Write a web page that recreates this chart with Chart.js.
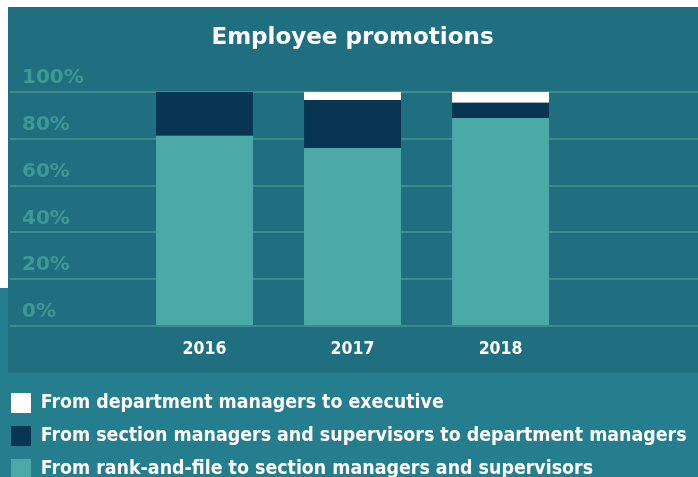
<!DOCTYPE html>
<html>
<head>
<meta charset="utf-8">
<title>Employee promotions</title>
<script src="https://cdn.jsdelivr.net/npm/chart.js@4/dist/chart.umd.min.js"></script>
<style>
  html, body { margin: 0; padding: 0; background: #ffffff; }
  #wrap { width: 698px; height: 477px; overflow: hidden; }
</style>
</head>
<body>
<div id="wrap"><canvas id="chart" width="698" height="477"></canvas></div>
<script>
// Promotion shares per year (percent of all promotions)
const years = [2016, 2017, 2018];
const rankToSection = [81.3, 76.1, 88.9];
const sectionToDepartment = [18.7, 20.5, 6.5];
const departmentToExecutive = [0, 3.4, 4.6];
const seriesNames = [
  'From rank-and-file to section managers and supervisors',
  'From section managers and supervisors to department managers',
  'From department managers to executive'
];
const percentTicks = [0, 20, 40, 60, 80, 100];

const FONT = '"DejaVu Sans", "Liberation Sans", sans-serif';
const FONT_NARROW = '"DejaVu Sans Condensed", "Liberation Sans", sans-serif';
const COLORS = {
  panel: '#206f80',
  footer: '#247e8e',
  grid: '#3b8d8d',
  tickText: '#3f9894',
  teal: '#4ba9a8',
  navy: '#083652',
  white: '#ffffff'
};

const toPoints = arr => years.map((yr, i) => ({ x: yr, y: arr[i] }));

// Panel backgrounds behind the plot
const backdrop = {
  id: 'backdrop',
  beforeDraw(chart) {
    const { ctx, width, height } = chart;
    ctx.save();
    ctx.fillStyle = '#ffffff';
    ctx.fillRect(0, 0, width, height);
    ctx.fillStyle = COLORS.footer;
    ctx.fillRect(0, 288, width, height - 288);
    ctx.fillStyle = COLORS.panel;
    ctx.fillRect(8, 7, width - 8, 366);
    ctx.restore();
  }
};

new Chart(document.getElementById('chart'), {
  type: 'bar',
  data: {
    datasets: [
      { label: seriesNames[0], data: toPoints(rankToSection), backgroundColor: COLORS.teal },
      { label: seriesNames[1], data: toPoints(sectionToDepartment), backgroundColor: COLORS.navy },
      { label: seriesNames[2], data: toPoints(departmentToExecutive), backgroundColor: COLORS.white }
    ]
  },
  options: {
    responsive: false,
    animation: false,
    events: [],
    layout: { padding: { top: 0, left: -2, right: -9, bottom: -12 } },
    datasets: {
      bar: { barPercentage: 0.655, categoryPercentage: 1, borderWidth: 0 }
    },
    scales: {
      x: {
        type: 'linear',
        stacked: true,
        offset: false,
        bounds: 'data',
        min: 2014.686,
        max: 2019.334,
        afterBuildTicks(scale) {
          scale.ticks = years.map(v => ({ value: v }));
        },
        afterFit(scale) { scale.height = 54; },
        grid: { display: false, drawTicks: false },
        border: { display: false },
        ticks: {
          autoSkip: false,
          maxRotation: 0,
          padding: 13,
          color: '#ffffff',
          font: { family: FONT_NARROW, size: 17.5, weight: 'bold' },
          callback: v => String(v)
        }
      },
      y: {
        stacked: true,
        min: 0,
        max: 100,
        afterBuildTicks(scale) {
          scale.ticks = percentTicks.map(v => ({ value: v }));
        },
        afterFit(scale) { scale.width = 12; },
        grid: { color: COLORS.grid, lineWidth: 2, drawTicks: false },
        border: { display: false },
        ticks: {
          mirror: true,
          padding: 12,
          labelOffset: -14,
          color: COLORS.tickText,
          font: { family: FONT, size: 20, weight: 'bold' },
          callback: v => v + '%'
        }
      }
    },
    plugins: {
      title: {
        display: true,
        text: 'Employee promotions',
        color: '#ffffff',
        font: { family: FONT, size: 23, weight: 'bold', lineHeight: 1.2 },
        padding: { top: 24, bottom: 40.4 }
      },
      legend: {
        position: 'bottom',
        align: 'start',
        reverse: true,
        labels: {
          boxWidth: 20,
          boxHeight: 20,
          padding: 13,
          color: '#ffffff',
          font: { family: FONT_NARROW, size: 19.4, weight: 'bold' }
        }
      },
      tooltip: { enabled: false }
    }
  },
  plugins: [backdrop]
});
</script>
</body>
</html>
